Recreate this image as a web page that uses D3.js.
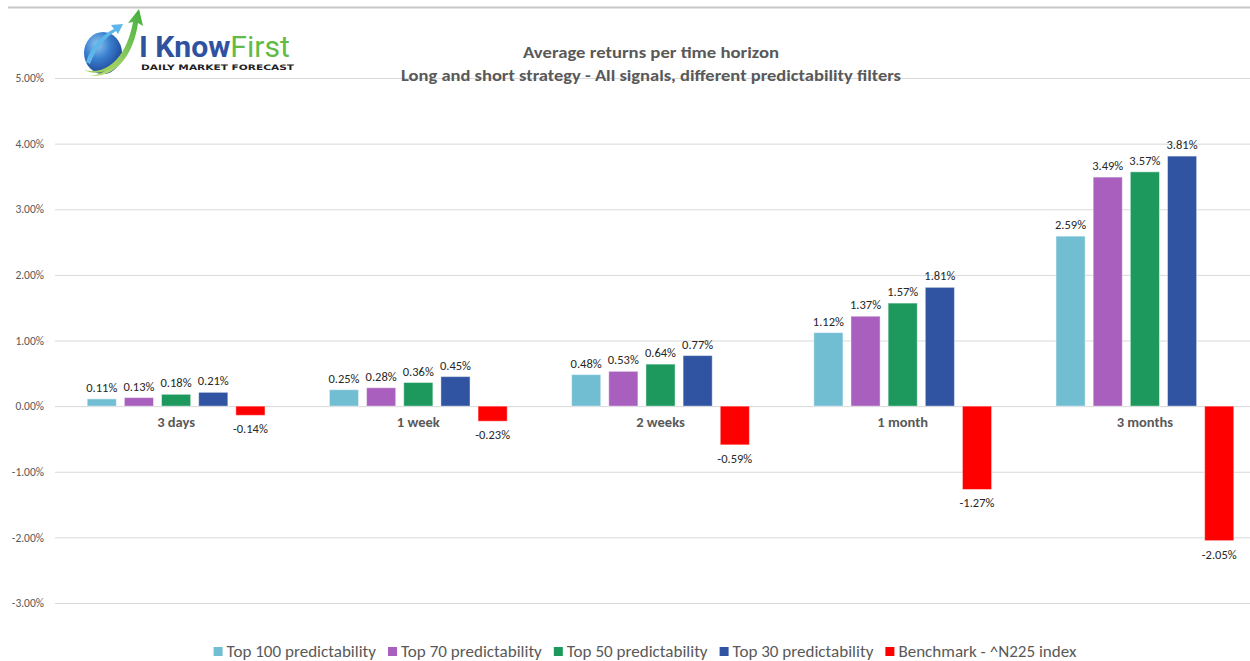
<!DOCTYPE html>
<html>
<head>
<meta charset="utf-8">
<script src="https://cdn.jsdelivr.net/npm/d3@7/dist/d3.min.js"></script>
<style>
  html, body { margin: 0; padding: 0; background: #fff; }
  svg { display: block; font-family: Calibri, Carlito, Lato, "Open Sans", sans-serif; }
</style>
</head>
<body>
<svg id="chart" width="1250" height="661"></svg>
<script>
// Horizons on the x axis
const categories = ["3 days", "1 week", "2 weeks", "1 month", "3 months"];

// Average returns (%) for each filter
const top100 = [0.11, 0.25, 0.48, 1.12, 2.59];
const top70  = [0.13, 0.28, 0.53, 1.37, 3.49];
const top50  = [0.18, 0.36, 0.64, 1.57, 3.57];
const top30  = [0.21, 0.45, 0.77, 1.81, 3.81];
const benchmark = [-0.14, -0.23, -0.59, -1.27, -2.05];

const seriesNames = ["Top 100 predictability", "Top 70 predictability", "Top 50 predictability",
                     "Top 30 predictability", "Benchmark - ^N225 index"];
const seriesColors = ["#71bed2", "#a95fbe", "#1d995e", "#3054a2", "#ff0000"];
const yTicks = [5, 4, 3, 2, 1, 0, -1, -2, -3];

const series = [top100, top70, top50, top30, benchmark].map((values, i) => ({
  name: seriesNames[i], color: seriesColors[i], values
}));

// percent with a plain hyphen for negatives
const pct = v => (v < 0 ? "-" : "") + Math.abs(v).toFixed(2) + "%";

const svg = d3.select("#chart");
const W = 1250, H = 661;
const plot = { left: 55, right: 1266, top: 78, bottom: 603 };

// chart frame line
svg.append("line")
  .attr("x1", 8).attr("x2", W).attr("y1", 7.5).attr("y2", 7.5)
  .attr("stroke", "#c8c8c8").attr("stroke-width", 2);

const y = d3.scaleLinear().domain([-3, 5]).range([plot.bottom, plot.top]);
const x0 = d3.scaleBand().domain(categories).range([plot.left, plot.right])
  .paddingInner(0.266).paddingOuter(0.133);
const x1 = d3.scaleBand().domain(d3.range(series.length)).range([0, x0.bandwidth()])
  .paddingInner(0.216).paddingOuter(0);

// gridlines + y labels
const yAxis = d3.axisLeft(y).tickValues(yTicks)
  .tickFormat(pct)
  .tickSize(-(plot.right - plot.left)).tickPadding(11);
const ga = svg.append("g").attr("transform", `translate(${plot.left},0)`).call(yAxis);
ga.select(".domain").remove();
ga.selectAll(".tick line").attr("stroke", "#d9d9d9").attr("stroke-width", 1);
ga.selectAll(".tick text").attr("fill", "#595959").style("font-size", "11.5px")
  .style("font-family", "Calibri, Carlito, Lato, sans-serif");

// bars
const groups = svg.append("g").selectAll("g").data(series).join("g")
  .attr("fill", d => d.color);

groups.selectAll("rect")
  .data((s, si) => s.values.map((v, ci) => ({ v, ci, si, color: s.color })))
  .join("rect")
  .attr("x", d => x0(categories[d.ci]) + x1(d.si))
  .attr("width", x1.bandwidth())
  .attr("y", d => y(Math.max(0, d.v)))
  .attr("height", d => Math.abs(y(d.v) - y(0)))
  .attr("stroke", "#ffffff").attr("stroke-opacity", 0.45).attr("stroke-width", 1);

// value labels
groups.selectAll("text")
  .data((s, si) => s.values.map((v, ci) => ({ v, ci, si })))
  .join("text")
  .attr("x", d => x0(categories[d.ci]) + x1(d.si) + x1.bandwidth() / 2)
  .attr("y", d => d.v >= 0 ? y(d.v) - 7 : y(d.v) + 18)
  .attr("text-anchor", "middle")
  .attr("fill", "#262626")
  .style("font-size", "12.5px")
  .text(d => pct(d.v));

// category labels
svg.append("g").selectAll("text").data(categories).join("text")
  .attr("x", d => x0(d) + x0.bandwidth() / 2)
  .attr("y", y(0) + 21)
  .attr("text-anchor", "middle")
  .attr("fill", "#595959")
  .style("font-size", "14.5px").style("font-weight", "bold")
  .text(d => d);

// title
const title = svg.append("g").attr("fill", "#595959").style("font-weight", "bold")
  .attr("text-anchor", "middle");
title.append("text").attr("x", 651).attr("y", 58).style("font-size", "15.5px")
  .attr("textLength", 256).attr("lengthAdjust", "spacingAndGlyphs")
  .text("Average returns per time horizon");
title.append("text").attr("x", 651).attr("y", 81).style("font-size", "15.5px")
  .attr("textLength", 500).attr("lengthAdjust", "spacingAndGlyphs")
  .text("Long and short strategy - All signals, different predictability filters");

// legend: labels stretched slightly to the wider legend font metrics
const legend = svg.append("g").attr("transform", "translate(0,657)");
const items = legend.selectAll("g").data(series).join("g");
items.append("rect").attr("width", 9).attr("height", 9).attr("y", -10)
  .attr("fill", d => d.color);
items.append("text").attr("x", 13).attr("y", 0)
  .attr("fill", "#595959").style("font-size", "15.5px")
  .text(d => d.name)
  .each(function () {
    const w = this.getComputedTextLength();
    d3.select(this).attr("textLength", w * 1.1).attr("lengthAdjust", "spacingAndGlyphs");
  });
let cursor = 0;
const offsets = [];
items.each(function () {
  offsets.push(cursor);
  const w = +d3.select(this).select("text").attr("textLength");
  cursor += 13 + w + 12;
});
const totalW = cursor - 12;
const startX = 645 - totalW / 2;
items.attr("transform", (d, i) => `translate(${startX + offsets[i]},0)`);

// logo
const defs = svg.append("defs");
const globeGrad = defs.append("radialGradient").attr("id", "globe")
  .attr("cx", "35%").attr("cy", "30%").attr("r", "75%");
globeGrad.append("stop").attr("offset", "0%").attr("stop-color", "#8fc6ef");
globeGrad.append("stop").attr("offset", "45%").attr("stop-color", "#3a7fcf");
globeGrad.append("stop").attr("offset", "100%").attr("stop-color", "#1b3f8f");
const greenGrad = defs.append("linearGradient").attr("id", "swoosh")
  .attr("x1", "0%").attr("y1", "100%").attr("x2", "100%").attr("y2", "0%");
greenGrad.append("stop").attr("offset", "0%").attr("stop-color", "#c6e27a");
greenGrad.append("stop").attr("offset", "100%").attr("stop-color", "#3fae3c");

const logo = svg.append("g");
logo.append("ellipse").attr("cx", 103).attr("cy", 53).attr("rx", 19).attr("ry", 21)
  .attr("fill", "url(#globe)");
// light blue swoosh with arrow
logo.append("path")
  .attr("d", "M86,62 C92,44 104,34 114,29 L111,25 L123,24 L118,34 L116,31 C106,37 96,48 90,64 Z")
  .attr("fill", "#5cb6ea");
// green swoosh with arrow
logo.append("path")
  .attr("d", "M90,76 C112,74 128,50 133,22 L128,23 L139,9 L143,26 L138,23 C134,52 118,78 90,76 Z")
  .attr("fill", "url(#swoosh)");
logo.append("path")
  .attr("d", "M84,70 C100,74 114,66 122,52 C116,68 102,78 84,70 Z")
  .attr("fill", "#9fd05a");

const brand = logo.append("text").attr("x", 139).attr("y", 57)
  .style("font-size", "29px")
  .style("font-family", "'Liberation Sans Narrow', 'Roboto', sans-serif")
  .attr("textLength", 151).attr("lengthAdjust", "spacingAndGlyphs");
brand.append("tspan").attr("fill", "#2f52a0").style("font-weight", "bold").text("I Know");
brand.append("tspan").attr("fill", "#62bb46").text("First");
logo.append("text").attr("x", 141).attr("y", 69.5)
  .attr("fill", "#222").style("font-size", "7.5px").style("font-weight", "bold")
  .style("font-family", "'DejaVu Sans', sans-serif")
  .attr("textLength", 153).attr("lengthAdjust", "spacingAndGlyphs")
  .text("DAILY MARKET FORECAST");
</script>
</body>
</html>
